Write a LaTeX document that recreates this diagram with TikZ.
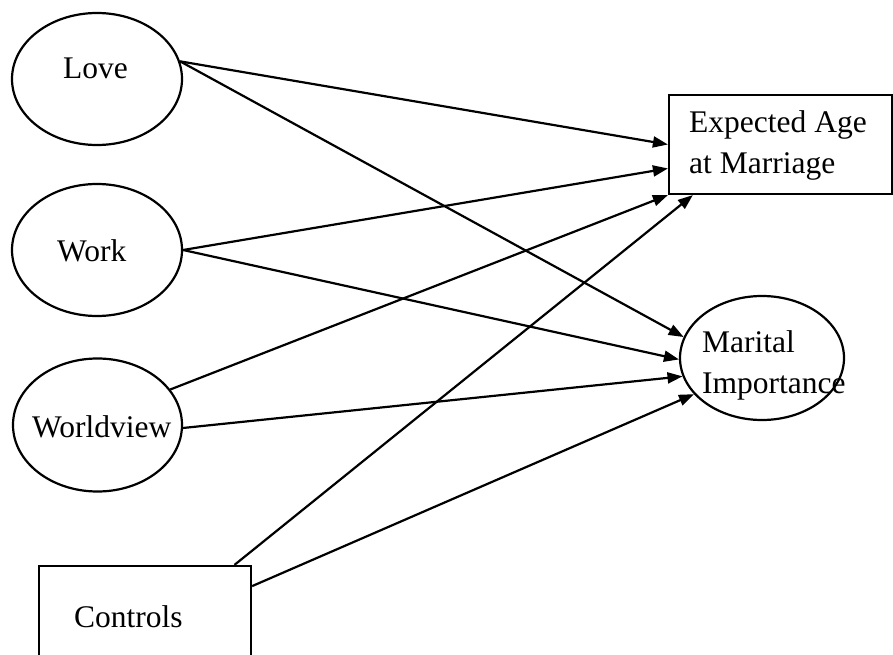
\documentclass[tikz,border=0pt]{standalone}
\usepackage{fontspec}
\setmainfont{Liberation Serif}
\usetikzlibrary{shapes.geometric,arrows.meta}
\tikzset{
  latent/.style={draw,ellipse,line width=2.2pt,inner sep=0pt},
  obsbox/.style={draw,rectangle,line width=2.2pt,inner sep=0pt},
  lbl/.style={anchor=base west,inner sep=0pt,font=\fontsize{31.5}{41}\selectfont},
  path/.style={line width=2.2pt,-{Triangle[length=15pt,width=11pt]}},
  plain/.style={line width=2.2pt}
}
\begin{document}
\begin{tikzpicture}[x=1pt,y=-1pt]
\useasboundingbox (0,0) rectangle (893,655);
\clip (0,0) rectangle (893,655);
% latent ellipses
\node[latent,minimum width=170pt,minimum height=132pt] (love) at (97,79) {};
\node[latent,minimum width=170pt,minimum height=132pt] (work) at (97,250) {};
\node[latent,minimum width=169pt,minimum height=133pt] (wv) at (97.5,425) {};
\node[latent,minimum width=164pt,minimum height=124pt] (mi) at (762,358) {};
% boxes
\node[obsbox,minimum width=223pt,minimum height=99pt] (exp) at (780.5,144.5) {};
\node[obsbox,minimum width=212pt,minimum height=114pt] (ctrl) at (145,623) {};
% texts
\node[lbl] (tlove) at (63,79) {Love};
\node[lbl] (twork) at (57,261) {Work};
\node[lbl] (twv) at (32,437) {Worldview};
\node[lbl] (tctrl) at (74,627) {Controls};
\node[lbl] (texp) at (689,133) {\begin{tabular}[t]{@{}l@{}}Expected Age\\at Marriage\end{tabular}};
\node[lbl] (tmi) at (702,352) {\begin{tabular}[t]{@{}l@{}}Marital\\Importance\end{tabular}};
% paths
\draw[path] (love.12) -- (exp.west);
\draw[path] (love.12) -- (mi.165);
\draw[path] (work.east) -- (exp.192.9);
\draw[path] (work.east) -- (mi.181);
\draw[path] (wv.26) -- (exp.south west);
\draw[path] (wv.-2) -- (mi.193);
\draw[path] (ctrl.33.84) -- (exp.210.7);
\draw[path] (ctrl.19.24) -- (mi.208);
\end{tikzpicture}
\end{document}
